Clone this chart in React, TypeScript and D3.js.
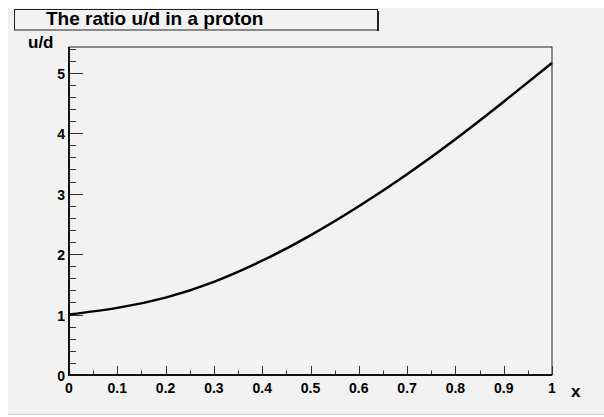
import * as d3 from 'd3';
import { useEffect, useRef } from 'react';

// u/d at x = 0, 0.1, ..., 1
const xValues = [0, 0.1, 0.2, 0.3, 0.4, 0.5, 0.6, 0.7, 0.8, 0.9, 1.0];
const ratioValues = [1.0, 1.11, 1.28, 1.54, 1.89, 2.31, 2.79, 3.32, 3.9, 4.52, 5.16];

const xTicks = [0, 0.1, 0.2, 0.3, 0.4, 0.5, 0.6, 0.7, 0.8, 0.9, 1];
const yTicks = [0, 1, 2, 3, 4, 5];

const titleText = 'The ratio u/d in a proton';
const xTitle = 'x';
const yTitle = 'u/d';

const dims = {
  width: 604,
  height: 417,
  left: 69,
  right: 552,
  top: 47,
  bottom: 375,
};

const font = 'Liberation Sans, Arial, Helvetica, sans-serif';

export default function App() {
  const svgRef = useRef(null);

  useEffect(() => {
    const svg = d3.select(svgRef.current);
    svg.selectAll('*').remove();

    const xScale = d3.scaleLinear().domain([0, 1]).range([dims.left, dims.right]);
    const yScale = d3.scaleLinear().domain([0, 5.425]).range([dims.bottom, dims.top]);

    // canvas
    svg.append('rect').attr('x', 0).attr('y', 0).attr('width', dims.width).attr('height', dims.height).style('fill', '#ffffff');
    svg.append('rect').attr('x', 8).attr('y', 8).attr('width', 596).attr('height', 406).style('fill', '#f2f2f2');
    svg.append('line').attr('x1', 8).attr('x2', 604).attr('y1', 414.5).attr('y2', 414.5).style('stroke', '#d2d2d2').style('stroke-width', 1);

    // frame
    svg
      .append('rect')
      .attr('x', dims.left)
      .attr('y', dims.top)
      .attr('width', dims.right - dims.left)
      .attr('height', dims.bottom - dims.top)
      .style('fill', 'none')
      .style('stroke', '#222')
      .style('stroke-width', 1);

    // y axis ticks
    const yMinor = d3.range(0, 5.425, 0.2);
    svg
      .append('g')
      .selectAll('line')
      .data(yMinor)
      .enter()
      .append('line')
      .attr('x1', dims.left)
      .attr('x2', (d) => dims.left + (Math.abs(d - Math.round(d)) < 1e-6 ? 14 : 7))
      .attr('y1', (d) => Math.round(yScale(d)) + 0.5)
      .attr('y2', (d) => Math.round(yScale(d)) + 0.5)
      .style('stroke', '#333')
      .style('stroke-width', 1);

    // x axis ticks
    const xMinor = d3.range(0, 1.0001, 0.05);
    svg
      .append('g')
      .selectAll('line')
      .data(xMinor)
      .enter()
      .append('line')
      .attr('x1', (d) => Math.round(xScale(d)) + 0.5)
      .attr('x2', (d) => Math.round(xScale(d)) + 0.5)
      .attr('y1', dims.bottom)
      .attr('y2', (d, i) => dims.bottom - (i % 2 === 0 ? 9 : 4.5))
      .style('stroke', '#333')
      .style('stroke-width', 1);

    // axis lines
    svg.append('line').attr('x1', dims.left).attr('x2', dims.left).attr('y1', dims.top).attr('y2', dims.bottom + 1).style('stroke', '#111').style('stroke-width', 2);
    svg.append('line').attr('x1', dims.left).attr('x2', dims.right).attr('y1', dims.bottom).attr('y2', dims.bottom).style('stroke', '#111').style('stroke-width', 2);

    // tick labels
    svg
      .append('g')
      .selectAll('text')
      .data(yTicks)
      .enter()
      .append('text')
      .attr('x', 65)
      .attr('y', (d) => yScale(d) + 6)
      .attr('text-anchor', 'end')
      .style('font-family', font)
      .style('font-weight', 'bold')
      .style('font-size', 14)
      .text((d) => String(d));

    svg
      .append('g')
      .selectAll('text')
      .data(xTicks)
      .enter()
      .append('text')
      .attr('x', (d) => xScale(d))
      .attr('y', 393)
      .attr('text-anchor', 'middle')
      .style('font-family', font)
      .style('font-weight', 'bold')
      .style('font-size', 14)
      .text((d) => String(d));

    // axis titles
    svg.append('text').attr('x', 571).attr('y', 397).style('font-family', font).style('font-weight', 'bold').style('font-size', 17).text(xTitle);
    svg.append('text').attr('x', 28).attr('y', 48).style('font-family', font).style('font-weight', 'bold').style('font-size', 17).text(yTitle);

    // title box, shadow on the right edge
    svg.append('rect').attr('x', 377).attr('y', 11).attr('width', 2).attr('height', 20).style('fill', '#222');
    svg
      .append('rect')
      .attr('x', 14.5)
      .attr('y', 9.5)
      .attr('width', 363)
      .attr('height', 20.5)
      .style('fill', '#f2f2f2')
      .style('stroke', '#222')
      .style('stroke-width', 1);
    svg
      .append('text')
      .attr('x', 46)
      .attr('y', 25)
      .style('font-family', font)
      .style('font-weight', 'bold')
      .style('font-size', 19)
      .text(titleText);

    // curve
    const points = xValues.map((x, i) => [x, ratioValues[i]]);
    const line = d3
      .line()
      .x((d) => xScale(d[0]))
      .y((d) => yScale(d[1]))
      .curve(d3.curveNatural);

    svg
      .append('path')
      .datum(points)
      .attr('d', line as any)
      .style('fill', 'none')
      .style('stroke', '#000')
      .style('stroke-width', 2.5);
  }, []);

  return (
    <svg
      ref={svgRef}
      width={dims.width}
      height={dims.height}
      style={{ position: 'absolute', left: 0, top: 0 }}
    ></svg>
  );
}
